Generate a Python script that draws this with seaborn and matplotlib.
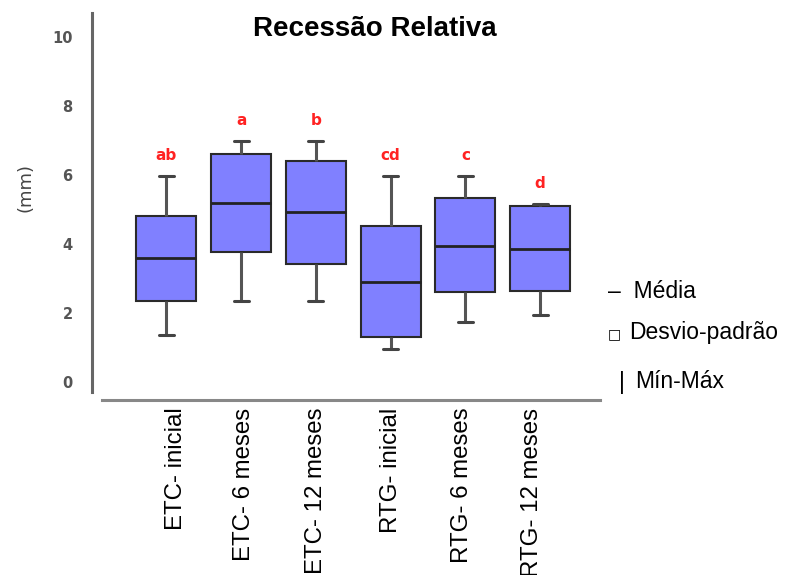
import numpy as np
import pandas as pd
import matplotlib
matplotlib.use("Agg")
import matplotlib.pyplot as plt
import matplotlib.transforms as mtransforms
import seaborn as sns

categorias = ["ETC- inicial", "ETC- 6 meses", "ETC- 12 meses",
              "RTG- inicial", "RTG- 6 meses", "RTG- 12 meses"]
media = [3.59, 5.19, 4.93, 2.90, 3.94, 3.86]
dp_inf = [2.35, 3.77, 3.42, 1.31, 2.61, 2.64]
dp_sup = [4.81, 6.61, 6.41, 4.52, 5.33, 5.10]
minimo = [1.35, 2.35, 2.35, 0.96, 1.74, 1.94]
maximo = [5.96, 6.98, 6.98, 5.96, 5.96, 5.16]
letras = ["ab", "a", "b", "cd", "c", "d"]
yticks = [0, 2, 4, 6, 8, 10]

# five-number records so the box = mean +/- SD, whiskers = min/max, centre line = mean
rows = []
for c, mn, lo, me, hi, mx in zip(categorias, minimo, dp_inf, media, dp_sup, maximo):
    for v in (mn, lo, me, hi, mx):
        rows.append({"grupo": c, "valor": v})
df = pd.DataFrame(rows)

sns.set_style("white")
plt.rcParams["font.family"] = ["Liberation Sans", "DejaVu Sans"]
plt.rcParams["text.color"] = "black"

W, H = 789, 575
fig = plt.figure(figsize=(W / 100, H / 100), dpi=100)
ax = fig.add_axes([102 / W, 1 - 392 / H, (600 - 102) / W, (392 - 13) / H])

sns.boxplot(data=df, x="grupo", y="valor", order=categorias, ax=ax,
            whis=(0, 100), width=0.8, color="#8080FF", saturation=1,
            linecolor="#2a2a2a", linewidth=1.5, capwidths=0.2,
            medianprops={"color": "#222222", "linewidth": 2.0},
            whiskerprops={"color": "#555555", "linewidth": 2.2},
            capprops={"color": "#444444", "linewidth": 2.2},
            boxprops={"edgecolor": "#2a2a2a", "linewidth": 1.5})

ax.set_xlim(-0.86, 5.80)
ax.set_ylim(-0.29, 10.7)
ax.set_xlabel("")
ax.set_ylabel("")

for i, (l, mx) in enumerate(zip(letras, maximo)):
    ax.text(i, mx + 0.47, l, color="#ff2222", fontsize=11, fontweight="bold",
            ha="center", va="baseline", family="DejaVu Sans")

ax.tick_params(axis="y", length=0, pad=14)
ax.tick_params(axis="x", length=0, pad=5.5)

for s in ("top", "right"):
    ax.spines[s].set_visible(False)
ax.spines["left"].set_position(("outward", 7.2))
ax.spines["left"].set_color("#666666")
ax.spines["left"].set_linewidth(2.2)
ax.spines["bottom"].set_position(("outward", 5.8))
ax.spines["bottom"].set_color("#888888")
ax.spines["bottom"].set_linewidth(2.2)

ax.set_yticks(yticks)
ax.set_yticklabels([str(t) for t in yticks])
ax.set_xticks(range(len(categorias)))
ax.set_xticklabels(categorias)

fig.canvas.draw()
for lbl in ax.get_yticklabels():
    lbl.set_fontsize(10.5)
    lbl.set_fontweight("bold")
    lbl.set_color("#555555")
    lbl.set_family("DejaVu Sans")
label_dx = [10, 3, 0, 0, -3, -8]  # small horizontal nudges (px) seen in the reference
for lbl, dx in zip(ax.get_xticklabels(), label_dx):
    lbl.set_rotation(90)
    lbl.set_fontsize(17.3)
    lbl.set_color("black")
    lbl.set_va("top")
    lbl.set_ha("center")
    lbl.set_transform(lbl.get_transform() +
                      mtransforms.ScaledTranslation(dx / 100, 0, fig.dpi_scale_trans))

def px(x, y):
    return x / W, 1 - y / H

fig.text(*px(375, 29), "Recessão Relativa", fontsize=20, fontweight="bold",
         ha="center", va="center", color="black")
fig.text(*px(25, 188), "(mm)", fontsize=13, color="#444444", rotation=90,
         ha="center", va="center", family="DejaVu Sans")

fig.text(*px(608, 292), "–  Média", fontsize=16.5, ha="left", va="center")
fig.text(*px(608, 334), "□", fontsize=10, ha="left", va="center",
         family="DejaVu Sans")
fig.text(*px(629, 333), "Desvio-padrão", fontsize=16.5, ha="left", va="center")
fig.text(*px(619, 382), "|", fontsize=16.5, ha="left", va="center")
fig.text(*px(635, 382), "Mín-Máx", fontsize=16.5, ha="left", va="center")

fig.savefig("out.png", dpi=100)
